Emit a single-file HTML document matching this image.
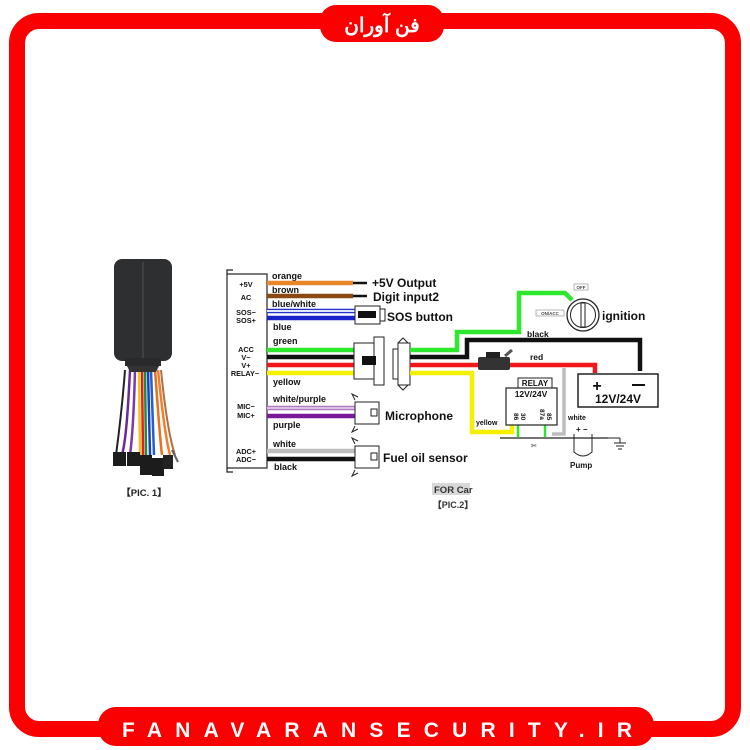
<!DOCTYPE html>
<html><head><meta charset="utf-8"><style>
html,body{margin:0;padding:0;background:#fff;}
svg{display:block;}
text{font-family:"Liberation Sans",Arial,sans-serif;font-weight:bold;}
</style></head><body>
<svg width="750" height="750" viewBox="0 0 750 750" xmlns="http://www.w3.org/2000/svg">
<!-- frame -->
<rect x="17" y="21" width="716" height="708" rx="22" ry="22" fill="none" stroke="#fb0000" stroke-width="16"/>
<rect x="320" y="5" width="124" height="37" rx="16" fill="#fb0000"/>
<text x="382" y="32" text-anchor="middle" font-size="20" fill="#fff" font-family="'Liberation Sans','Noto Sans CJK SC',sans-serif">فن آوران</text>
<rect x="98" y="707" width="556" height="39" rx="18" fill="#fb0000"/>
<text x="122" y="737" font-size="21" fill="#fff" textLength="510" lengthAdjust="spacing">FANAVARANSECURITY.IR</text>

<!-- PIC 1 device -->
<g>
<path d="M125 370 C122 410 118 440 116 455" stroke="#222" stroke-width="2" fill="none"/>
<path d="M130 370 C128 410 126 440 122 455" stroke="#6a2a9a" stroke-width="2.5" fill="none"/>
<path d="M135 370 C134 410 132 440 130 455" stroke="#7a3aaa" stroke-width="2.5" fill="none"/>
<path d="M139 370 L140 455" stroke="#f3c21a" stroke-width="2.5" fill="none"/>
<path d="M142 370 L143 455" stroke="#e02020" stroke-width="2.5" fill="none"/>
<path d="M145 370 L146 455" stroke="#1f8a3a" stroke-width="2.5" fill="none"/>
<path d="M148 370 L150 455" stroke="#1b3fbf" stroke-width="2.5" fill="none"/>
<path d="M151 370 L154 455" stroke="#2060d0" stroke-width="2.5" fill="none"/>
<path d="M155 370 C158 410 160 440 162 455" stroke="#e87020" stroke-width="2.5" fill="none"/>
<path d="M158 370 C162 410 166 440 170 455" stroke="#f08030" stroke-width="2.5" fill="none"/>
<path d="M161 370 C165 410 170 440 175 455" stroke="#b07040" stroke-width="2" fill="none"/>
<rect x="114" y="259" width="58" height="102" rx="8" fill="#2e2f31"/>
<line x1="143" y1="262" x2="143" y2="358" stroke="#45474a" stroke-width="1.5"/>
<rect x="125" y="358" width="36" height="8" fill="#2a2a2c"/>
<path d="M127 366 L159 366 L156 372 L130 372 Z" fill="#333"/>
<rect x="113" y="452" width="13" height="14" fill="#1c1c1c"/>
<rect x="127" y="452" width="13" height="14" fill="#1c1c1c"/>
<rect x="140" y="455" width="12" height="20" fill="#1c1c1c"/>
<rect x="152" y="458" width="12" height="18" fill="#1c1c1c"/>
<rect x="163" y="455" width="10" height="14" fill="#222"/>
<line x1="172" y1="450" x2="178" y2="462" stroke="#666" stroke-width="2"/>
</g>
<text x="144" y="496" text-anchor="middle" font-size="9.5" fill="#222">【PIC. 1】</text>

<!-- left box -->
<rect x="227" y="274" width="40" height="194" fill="#fff" stroke="#222" stroke-width="1.2"/>
<path d="M227 274 v-4 h6 M227 468 v4 h6" stroke="#222" fill="none" stroke-width="1.2"/>
<g font-size="7.3" fill="#111" text-anchor="middle">
<text x="246" y="287">+5V</text><text x="246" y="300">AC</text>
<text x="246" y="315">SOS−</text><text x="246" y="323">SOS+</text>
<text x="246" y="352">ACC</text><text x="246" y="360">V−</text><text x="246" y="368">V+</text><text x="245" y="376">RELAY−</text>
<text x="246" y="409">MIC−</text><text x="246" y="418">MIC+</text>
<text x="246" y="454">ADC+</text><text x="246" y="462">ADC−</text>
</g>
<g font-size="9" fill="#111">
<text x="272" y="279">orange</text><text x="272" y="293">brown</text>
<text x="272" y="307">blue/white</text><text x="273" y="330">blue</text>
<text x="273" y="344">green</text><text x="273" y="385">yellow</text>
<text x="273" y="402">white/purple</text><text x="273" y="428">purple</text>
<text x="273" y="447">white</text><text x="274" y="470">black</text>
</g>
<g stroke-width="4.5" fill="none">
<line x1="267" y1="283" x2="353" y2="283" stroke="#e8862a"/>
<line x1="353" y1="283" x2="367" y2="283" stroke="#111" stroke-width="2.5"/>
<line x1="267" y1="296" x2="353" y2="296" stroke="#8b4a14"/>
<line x1="353" y1="296" x2="367" y2="296" stroke="#111" stroke-width="2.5"/>
<line x1="267" y1="311" x2="355" y2="311" stroke="#2233cc"/>
<line x1="267" y1="311" x2="355" y2="311" stroke="#fff" stroke-width="1.8"/>
<line x1="267" y1="318" x2="355" y2="318" stroke="#1a22cc"/>
<line x1="267" y1="350" x2="355" y2="350" stroke="#2ee82e"/>
<line x1="267" y1="357" x2="355" y2="357" stroke="#111"/>
<line x1="267" y1="365" x2="355" y2="365" stroke="#f01818"/>
<line x1="267" y1="373" x2="355" y2="373" stroke="#f5f000"/>
<line x1="267" y1="408" x2="355" y2="408" stroke="#b07ac0"/>
<line x1="267" y1="408" x2="355" y2="408" stroke="#e8d8f0" stroke-width="1.6"/>
<line x1="267" y1="416" x2="355" y2="416" stroke="#7a1a9a"/>
<line x1="267" y1="451" x2="355" y2="451" stroke="#bdbdbd"/>
<line x1="267" y1="459" x2="355" y2="459" stroke="#111"/>
</g>
<rect x="355" y="306" width="25" height="18" fill="#fff" stroke="#222"/>
<rect x="380" y="309" width="5" height="12" fill="#fff" stroke="#222"/>
<rect x="358" y="311" width="18" height="7" fill="#111"/>
<rect x="354" y="343" width="24" height="36" fill="#fff" stroke="#222"/>
<rect x="374" y="337" width="10" height="48" fill="#fff" stroke="#222"/>
<rect x="362" y="356" width="14" height="9" fill="#111"/>
<rect x="393" y="349" width="10" height="30" fill="#fff" stroke="#222"/>
<rect x="398" y="343" width="12" height="42" fill="#fff" stroke="#222"/>
<path d="M398 343 l5 -5 l5 5 M398 385 l5 5 l5 -5" stroke="#222" fill="none"/>
<rect x="355" y="402" width="24" height="22" fill="#fff" stroke="#222"/>
<rect x="371" y="409" width="6" height="7" fill="#fff" stroke="#222"/>
<path d="M355 400 l-3 -6 l6 3 M355 426 l-3 6 l6 -3" stroke="#222" fill="none"/>
<rect x="355" y="446" width="24" height="22" fill="#fff" stroke="#222"/>
<rect x="371" y="453" width="6" height="7" fill="#fff" stroke="#222"/>
<path d="M355 444 l-3 -6 l6 3 M355 470 l-3 6 l6 -3" stroke="#222" fill="none"/>
<!-- right wires -->
<g fill="none" stroke-width="4.5">
<path d="M410 350 H457 V332 H519 V293 H565 L572 300" stroke="#2ee82e"/>
<path d="M410 357 H467 V340 H640 V371" stroke="#111"/>
<path d="M410 365 H595 V373" stroke="#f01818"/>
<path d="M410 373 H472 V432 H512 V424" stroke="#f5f000"/>
<path d="M564 368 V434 H552" stroke="#bdbdbd" stroke-width="3.5"/>
<path d="M518 425 V437 M545 425 V437" stroke="#2ee82e" stroke-width="2.5"/>
</g>
<g font-size="12" fill="#111">
<text x="372" y="287">+5V Output</text>
<text x="373" y="301">Digit input2</text>
<text x="387" y="321">SOS button</text>
<text x="385" y="420">Microphone</text>
<text x="383" y="462">Fuel oil sensor</text>
</g>
<rect x="478" y="357" width="32" height="13" fill="#333" rx="2"/>
<rect x="486" y="352" width="14" height="6" fill="#222"/>
<line x1="505" y1="356" x2="512" y2="350" stroke="#555" stroke-width="3"/>
<text x="530" y="360" font-size="8.5" fill="#111">red</text>
<text x="527" y="337" font-size="8.5" fill="#111">black</text>
<circle cx="583" cy="315" r="16" fill="#fff" stroke="#222" stroke-width="1.3"/>
<circle cx="583" cy="315" r="12.5" fill="none" stroke="#222"/>
<rect x="581" y="303" width="4" height="24" fill="#fff" stroke="#222"/>
<rect x="574" y="284" width="14" height="6" fill="#fff" stroke="#888" stroke-width=".6"/>
<text x="581" y="289" font-size="4.5" fill="#444" text-anchor="middle" font-weight="normal">OFF</text>
<rect x="536" y="310" width="28" height="6" fill="#fff" stroke="#888" stroke-width=".6"/>
<text x="550" y="315" font-size="4.5" fill="#444" text-anchor="middle" font-weight="normal">ON/ACC</text>
<text x="602" y="320" font-size="12" fill="#111">ignition</text>
<rect x="518" y="378" width="34" height="10" fill="#fff" stroke="#222"/>
<text x="535" y="386" font-size="8" fill="#111" text-anchor="middle">RELAY</text>
<rect x="506" y="388" width="51" height="37" fill="#fff" stroke="#222" stroke-width="1.2"/>
<text x="531" y="397" font-size="8.5" fill="#111" text-anchor="middle">12V/24V</text>
<g font-size="6.5" fill="#111">
<text transform="translate(514,413) rotate(90)">86</text>
<text transform="translate(521,413) rotate(90)">30</text>
<text transform="translate(540,409) rotate(90)">87a</text>
<text transform="translate(547,413) rotate(90)">85</text>
</g>
<text x="476" y="425" font-size="7" fill="#111">yellow</text>
<text x="568" y="420" font-size="7" fill="#111">white</text>
<rect x="578" y="374" width="80" height="33" fill="#fff" stroke="#222" stroke-width="1.5"/>
<text x="597" y="391" font-size="16" fill="#111" text-anchor="middle">+</text>
<line x1="632" y1="385" x2="645" y2="385" stroke="#111" stroke-width="2"/>
<text x="618" y="403" font-size="12" fill="#111" text-anchor="middle">12V/24V</text>
<line x1="500" y1="438" x2="608" y2="438" stroke="#222" stroke-width="1.2"/>
<path d="M574 434 V452 Q583 460 592 452 V434" fill="none" stroke="#222"/>
<text x="576" y="432" font-size="8" fill="#111">+ −</text>
<line x1="608" y1="438" x2="620" y2="438" stroke="#222"/>
<path d="M614 443 h12 M616 446 h8 M618 449 h4 M620 438 v5" stroke="#222"/>
<text x="570" y="468" font-size="8" fill="#111">Pump</text>
<text x="531" y="448" font-size="7" fill="#777">✂</text>
<rect x="432" y="483" width="38" height="12" fill="#d8d8d8"/>
<text x="434" y="493" font-size="9.5" fill="#333">FOR Car</text>
<text x="453" y="508" font-size="9" fill="#333" text-anchor="middle">【PIC.2】</text>
</svg>
</body></html>
